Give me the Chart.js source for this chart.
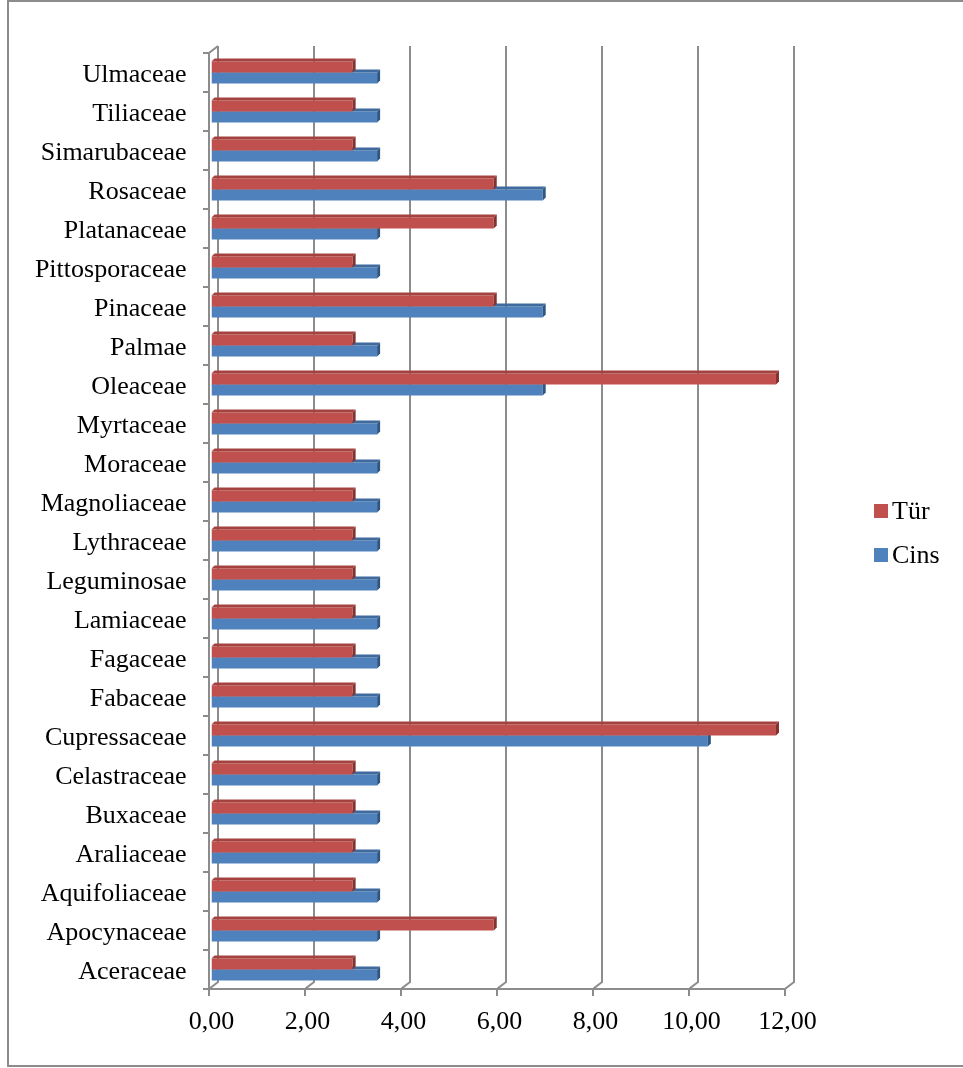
<!DOCTYPE html>
<html>
<head>
<meta charset="utf-8">
<title>Tür / Cins</title>
<script src="https://cdn.jsdelivr.net/npm/chart.js@4.4.1/dist/chart.umd.min.js"></script>
<style>
  html, body { margin: 0; padding: 0; background: #fff; }
  #wrap { width: 963px; height: 1068px; }
</style>
</head>
<body>
<div id="wrap"><canvas id="familyChart" width="963" height="1068"></canvas></div>
<script>
// ================================
// Data (top to bottom, as in the chart)
// ================================
const families = [
  "Ulmaceae", "Tiliaceae", "Simarubaceae", "Rosaceae", "Platanaceae",
  "Pittosporaceae", "Pinaceae", "Palmae", "Oleaceae", "Myrtaceae",
  "Moraceae", "Magnoliaceae", "Lythraceae", "Leguminosae", "Lamiaceae",
  "Fagaceae", "Fabaceae", "Cupressaceae", "Celastraceae", "Buxaceae",
  "Araliaceae", "Aquifoliaceae", "Apocynaceae", "Aceraceae"
];

const turValues = [
  2.94, 2.94, 2.94, 5.88, 5.88,
  2.94, 5.88, 2.94, 11.76, 2.94,
  2.94, 2.94, 2.94, 2.94, 2.94,
  2.94, 2.94, 11.76, 2.94, 2.94,
  2.94, 2.94, 5.88, 2.94
];

const cinsValues = [
  3.45, 3.45, 3.45, 6.90, 3.45,
  3.45, 6.90, 3.45, 6.90, 3.45,
  3.45, 3.45, 3.45, 3.45, 3.45,
  3.45, 3.45, 10.34, 3.45, 3.45,
  3.45, 3.45, 3.45, 3.45
];

const xTickLabels = ["0,00", "2,00", "4,00", "6,00", "8,00", "10,00", "12,00"];

// ================================
// Style
// ================================
const FONT = "'Liberation Serif', 'Times New Roman', serif";
const FRONT = { tur: "#C0504D", cins: "#4F81BD" };
const TOP_FACE = ["#A5423F", "#3F6A9E"];
const SIDE_FACE = ["#843230", "#2F5683"];
const LINE = "#8C8C8C";

// 3D offsets
const WALL_DX = 9, WALL_DY = 7;   // back wall
const BAR_D = 3;                  // bar depth

// ================================
// Plugins
// ================================
const frame3d = {
  id: "frame3d",
  beforeDatasetsDraw(chart) {
    const { ctx, chartArea: a, scales: { x } } = chart;
    const ticks = x.ticks.map((t) => t.value);
    ctx.save();
    ctx.strokeStyle = LINE;
    ctx.lineWidth = 2;

    // back wall gridlines + floor diagonals + bottom ticks
    ticks.forEach((v) => {
      const fx = x.getPixelForValue(v) - 2.5;
      const bx = fx + WALL_DX;
      ctx.beginPath();
      ctx.moveTo(bx, a.top - WALL_DY);
      ctx.lineTo(bx, a.bottom - WALL_DY);
      ctx.lineTo(fx, a.bottom);
      ctx.lineTo(fx, a.bottom + 7);
      ctx.stroke();
    });

    const left = x.getPixelForValue(0) - 2.5;
    const right = x.getPixelForValue(12) - 2.5;

    // front floor edge
    ctx.beginPath();
    ctx.moveTo(left, a.bottom);
    ctx.lineTo(right, a.bottom);
    ctx.stroke();

    // front left wall edge + top diagonal
    ctx.beginPath();
    ctx.moveTo(left + WALL_DX, a.top - WALL_DY);
    ctx.lineTo(left, a.top);
    ctx.lineTo(left, a.bottom);
    ctx.stroke();

    // category tick marks on the left
    const step = (a.bottom - a.top) / families.length;
    for (let i = 0; i <= families.length; i++) {
      const yy = a.top + i * step;
      ctx.beginPath();
      ctx.moveTo(left - 6, yy);
      ctx.lineTo(left, yy);
      ctx.stroke();
    }
    ctx.restore();
  },
  afterDatasetDraw(chart, args) {
    const { ctx } = chart;
    const i = args.index;
    const meta = args.meta;
    ctx.save();
    meta.data.forEach((bar) => {
      const p = bar.getProps(["x", "y", "base", "height"], true);
      const top = p.y - p.height / 2;
      const bottom = p.y + p.height / 2;
      // top face
      ctx.fillStyle = TOP_FACE[i];
      ctx.beginPath();
      ctx.moveTo(p.base, top);
      ctx.lineTo(p.x, top);
      ctx.lineTo(p.x + BAR_D, top - BAR_D);
      ctx.lineTo(p.base + BAR_D, top - BAR_D);
      ctx.closePath();
      ctx.fill();
      // side face
      ctx.fillStyle = SIDE_FACE[i];
      ctx.beginPath();
      ctx.moveTo(p.x, top);
      ctx.lineTo(p.x + BAR_D, top - BAR_D);
      ctx.lineTo(p.x + BAR_D, bottom - BAR_D);
      ctx.lineTo(p.x, bottom);
      ctx.closePath();
      ctx.fill();
    });
    ctx.restore();
  },
  afterDraw(chart) {
    const { ctx } = chart;
    ctx.save();
    // legend
    ctx.font = "26px " + FONT;
    ctx.textBaseline = "middle";
    ctx.textAlign = "left";
    chart.data.datasets.forEach((ds, k) => {
      const cy = 511 + k * 44;
      ctx.fillStyle = ds.backgroundColor;
      ctx.fillRect(874, cy - 7, 14, 14);
      ctx.fillStyle = "#000";
      ctx.fillText(ds.label, 892, cy + 1);
    });
    // outer frame
    ctx.strokeStyle = "#8C8C8C";
    ctx.lineWidth = 2;
    ctx.strokeRect(8, 1, 970, 1065);
    ctx.restore();
  }
};

// ================================
// Chart
// ================================
new Chart(document.getElementById("familyChart"), {
  type: "bar",
  data: {
    labels: families,
    datasets: [
      { label: "Tür", data: turValues, backgroundColor: FRONT.tur },
      { label: "Cins", data: cinsValues, backgroundColor: FRONT.cins }
    ]
  },
  options: {
    indexAxis: "y",
    responsive: false,
    animation: false,
    devicePixelRatio: 1,
    categoryPercentage: 0.56,
    barPercentage: 1,
    layout: { padding: { top: 53, right: 175.5, bottom: 0, left: 0 } },
    plugins: {
      legend: { display: false },
      tooltip: { enabled: false }
    },
    scales: {
      x: {
        min: 0,
        max: 12,
        grid: { display: false, drawTicks: false },
        border: { display: false },
        ticks: {
          stepSize: 2,
          padding: 18,
          color: "#000",
          font: { family: FONT, size: 26 },
          callback: (v) => xTickLabels[Math.round(v / 2)]
        },
        afterFit: (scale) => { scale.height = 79; }
      },
      y: {
        grid: { display: false, drawTicks: false },
        border: { display: false },
        ticks: {
          autoSkip: false,
          padding: 25,
          labelOffset: 3,
          color: "#000",
          font: { family: FONT, size: 26 }
        },
        afterFit: (scale) => { scale.width = 211.5; }
      }
    }
  },
  plugins: [frame3d]
});
</script>
</body>
</html>
